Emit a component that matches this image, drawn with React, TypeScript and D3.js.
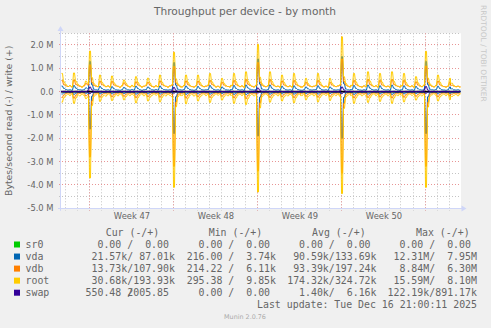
import React from "react";
import * as d3 from "d3";

// ---------- data (values in units of 10 kB/s, one sample per 4 hours) ----------
const START = Date.UTC(2025, 10, 14, 16); // Nov 14 16:00
const STEP_H = 4;
const N = 200;

const rootWrite = [
  78, 42, 30, 22, 26, 19, 80, 44, 31, 24,
  18, 27, 45, 35, 174, 60, 34, 25, 21, 71,
  40, 29, 20, 25, 18, 67, 38, 28, 22, 17,
  26, 50, 36, 24, 19, 27, 21, 64, 39, 26,
  18, 24, 28, 58, 37, 23, 19, 26, 20, 71,
  41, 28, 22, 18, 25, 30, 169, 55, 33, 24,
  19, 27, 71, 40, 27, 21, 18, 25, 71, 39,
  26, 20, 24, 28, 78, 42, 29, 19, 23, 17,
  57, 36, 26, 22, 19, 27, 78, 43, 28, 21,
  25, 18, 85, 45, 30, 22, 19, 28, 203, 62,
  34, 24, 20, 26, 85, 44, 29, 21, 24, 18,
  71, 40, 27, 20, 25, 19, 78, 42, 28, 22,
  18, 26, 57, 35, 25, 20, 23, 28, 78, 41,
  27, 19, 24, 18, 57, 36, 26, 21, 25, 30,
  235, 64, 35, 24, 19, 27, 78, 42, 28, 21,
  18, 25, 22, 85, 45, 29, 21, 26, 19, 78,
  41, 27, 20, 24, 18, 85, 44, 28, 22, 19,
  26, 78, 40, 27, 21, 25, 18, 64, 38, 26,
  20, 29, 173, 58, 33, 24, 19, 27, 71, 40,
  26, 21, 18, 24, 57, 36, 25, 20, 23, 19,
];
const rootRead = [
  -45, -26, -15, -11, -17, -9, -50, -27, -14, -18,
  -10, -16, -30, -22, -370, -60, -20, -13, -9, -42,
  -24, -15, -19, -10, -14, -38, -23, -12, -18, -9,
  -15, -35, -21, -13, -17, -11, -16, -48, -26, -14,
  -10, -18, -12, -40, -24, -16, -9, -15, -11, -44,
  -25, -14, -18, -10, -16, -22, -410, -65, -21, -12,
  -17, -9, -52, -28, -15, -11, -19, -13, -40, -23,
  -14, -10, -17, -12, -46, -25, -16, -9, -15, -11,
  -36, -22, -13, -18, -10, -16, -50, -27, -14, -11,
  -17, -9, -55, -30, -16, -12, -18, -14, -430, -70,
  -22, -13, -10, -17, -45, -26, -15, -11, -18, -9,
  -40, -23, -14, -18, -10, -16, -48, -26, -13, -11,
  -17, -9, -35, -21, -15, -10, -18, -12, -44, -25,
  -14, -11, -16, -9, -38, -22, -13, -17, -10, -20,
  -437, -72, -23, -14, -11, -17, -50, -27, -15, -10,
  -18, -12, -16, -46, -26, -14, -9, -17, -11, -42,
  -24, -15, -10, -18, -12, -50, -27, -14, -17, -9,
  -15, -44, -25, -13, -10, -16, -11, -36, -22, -14,
  -18, -12, -410, -66, -20, -13, -9, -16, -40, -23,
  -14, -11, -17, -10, -34, -21, -15, -12, -18, -10,
];
const vdbWrite = [
  48, 30, 24, 22, 25, 21, 50, 31, 25, 23,
  21, 24, 35, 28, 115, 40, 26, 23, 22, 45,
  30, 25, 22, 24, 21, 44, 29, 24, 23, 20,
  24, 38, 28, 23, 21, 25, 22, 42, 29, 24,
  21, 23, 25, 40, 28, 22, 21, 24, 22, 46,
  30, 25, 23, 21, 24, 26, 108, 38, 27, 23,
  21, 25, 46, 30, 24, 22, 21, 24, 45, 29,
  24, 22, 23, 25, 48, 31, 25, 21, 23, 20,
  40, 28, 24, 22, 21, 25, 48, 30, 25, 22,
  24, 21, 52, 32, 26, 23, 21, 25, 125, 42,
  27, 23, 22, 24, 52, 31, 25, 22, 23, 21,
  46, 29, 24, 22, 24, 21, 48, 30, 25, 23,
  21, 24, 40, 27, 23, 22, 23, 25, 48, 30,
  24, 21, 23, 21, 40, 28, 24, 22, 24, 26,
  140, 44, 28, 23, 21, 25, 48, 30, 25, 22,
  21, 24, 23, 52, 31, 25, 22, 24, 21, 48,
  29, 24, 22, 23, 21, 52, 31, 25, 23, 21,
  24, 48, 29, 24, 22, 24, 21, 42, 28, 24,
  22, 26, 110, 40, 27, 23, 21, 25, 45, 29,
  24, 22, 21, 23, 40, 27, 24, 22, 23, 21,
];
const vdbRead = [
  -25, -14, -8, -6, -9, -5, -28, -15, -7, -8,
  -5, -7, -18, -12, -280, -40, -10, -7, -5, -24,
  -13, -8, -9, -6, -7, -22, -12, -7, -9, -5,
  -8, -20, -11, -7, -9, -6, -8, -26, -14, -7,
  -6, -9, -7, -22, -13, -8, -5, -8, -6, -24,
  -13, -7, -9, -6, -8, -11, -320, -45, -11, -7,
  -9, -5, -28, -15, -8, -6, -9, -7, -22, -12,
  -7, -6, -9, -7, -25, -14, -8, -5, -8, -6,
  -20, -11, -7, -9, -6, -8, -27, -14, -7, -6,
  -9, -5, -30, -16, -8, -7, -9, -8, -340, -48,
  -12, -7, -6, -9, -25, -14, -8, -6, -9, -5,
  -22, -12, -7, -9, -6, -8, -26, -14, -7, -6,
  -9, -5, -20, -11, -8, -6, -9, -7, -24, -13,
  -7, -6, -8, -5, -21, -12, -7, -9, -6, -11,
  -350, -50, -12, -7, -6, -9, -27, -14, -8, -6,
  -9, -7, -8, -25, -14, -7, -5, -9, -6, -23,
  -13, -8, -6, -9, -7, -27, -14, -7, -9, -5,
  -8, -24, -13, -7, -6, -8, -6, -20, -12, -7,
  -9, -7, -320, -46, -11, -7, -5, -8, -22, -12,
  -7, -6, -9, -6, -19, -11, -8, -7, -9, -6,
];
const vdaWrite = [
  24, 14, 9, 7, 8, 6, 26, 15, 9, 8,
  7, 8, 16, 12, 130, 30, 10, 8, 7, 22,
  13, 9, 7, 8, 6, 21, 12, 8, 7, 6,
  8, 18, 11, 8, 7, 9, 7, 23, 13, 8,
  6, 8, 9, 20, 12, 8, 7, 9, 7, 24,
  13, 9, 8, 7, 8, 10, 125, 28, 10, 8,
  7, 9, 24, 14, 9, 7, 6, 8, 22, 13,
  8, 7, 8, 9, 26, 15, 9, 7, 8, 6,
  20, 12, 8, 7, 6, 9, 26, 14, 9, 7,
  8, 6, 28, 16, 10, 8, 7, 9, 140, 32,
  11, 8, 7, 9, 28, 15, 9, 7, 8, 6,
  23, 13, 8, 7, 8, 6, 25, 14, 9, 7,
  6, 8, 20, 12, 8, 7, 8, 9, 25, 14,
  8, 7, 8, 6, 20, 12, 8, 7, 8, 10,
  150, 34, 11, 8, 7, 9, 26, 14, 9, 7,
  6, 8, 7, 28, 15, 9, 7, 8, 6, 25,
  13, 8, 7, 8, 6, 28, 15, 9, 7, 6,
  8, 25, 13, 8, 7, 8, 6, 22, 12, 8,
  7, 10, 130, 30, 10, 8, 7, 9, 23, 13,
  8, 7, 6, 8, 20, 12, 8, 7, 8, 6,
];
const vdaRead = [
  -10, -6, -3, -2, -4, -2, -12, -6, -3, -3,
  -2, -3, -7, -5, -160, -20, -4, -3, -2, -10,
  -5, -3, -4, -2, -3, -9, -5, -3, -4, -2,
  -3, -8, -5, -3, -4, -2, -3, -11, -6, -3,
  -2, -4, -3, -9, -5, -3, -2, -3, -2, -10,
  -6, -3, -4, -2, -3, -5, -180, -22, -5, -3,
  -4, -2, -12, -6, -3, -2, -4, -3, -9, -5,
  -3, -2, -4, -3, -11, -6, -3, -2, -3, -2,
  -8, -5, -3, -4, -2, -3, -12, -6, -3, -2,
  -4, -2, -13, -7, -3, -3, -4, -3, -190, -24,
  -5, -3, -2, -4, -11, -6, -3, -2, -4, -2,
  -9, -5, -3, -4, -2, -3, -11, -6, -3, -2,
  -4, -2, -8, -5, -3, -2, -4, -3, -10, -6,
  -3, -2, -3, -2, -8, -5, -3, -4, -2, -4,
  -200, -25, -5, -3, -2, -4, -12, -6, -3, -2,
  -4, -3, -3, -11, -6, -3, -2, -4, -2, -10,
  -5, -3, -2, -4, -3, -12, -6, -3, -4, -2,
  -3, -10, -5, -3, -2, -3, -2, -8, -5, -3,
  -4, -3, -180, -22, -5, -3, -2, -3, -9, -5,
  -3, -2, -4, -2, -8, -5, -3, -3, -4, -2,
];
const swapWrite = [
  0, 1, 0, 0, 1, 0, 0, 1, 0, 0,
  1, 0, 0, 5, 20, 8, 1, 0, 0, 1,
  0, 0, 1, 0, 0, 1, 0, 0, 1, 0,
  0, 1, 0, 0, 1, 0, 0, 1, 0, 0,
  1, 0, 0, 1, 0, 0, 1, 0, 0, 1,
  0, 0, 1, 0, 0, 4, 18, 6, 1, 0,
  0, 1, 0, 0, 1, 0, 0, 1, 0, 0,
  1, 0, 0, 1, 0, 0, 1, 0, 0, 1,
  0, 0, 1, 0, 0, 1, 0, 0, 1, 0,
  0, 1, 0, 0, 1, 0, 0, 5, 15, 6,
  1, 0, 0, 1, 0, 0, 1, 0, 0, 1,
  0, 0, 1, 0, 0, 1, 0, 0, 1, 0,
  0, 1, 0, 0, 1, 0, 0, 1, 0, 0,
  1, 0, 0, 1, 0, 0, 1, 0, 0, 4,
  20, 8, 1, 0, 0, 1, 0, 0, 1, 0,
  0, 1, 0, 0, 1, 0, 0, 1, 0, 0,
  1, 0, 0, 1, 0, 0, 1, 0, 0, 1,
  0, 0, 1, 0, 0, 1, 0, 0, 1, 0,
  0, 6, 22, 7, 1, 0, 0, 1, 0, 0,
  1, 0, 0, 1, 0, 0, 1, 0, 0, 1,
];
const swapRead = [
  0, 0, 0, 0, 0, 0, 0, 0, 0, 0,
  0, 0, 0, -2, -8, -3, 0, 0, 0, 0,
  0, 0, 0, 0, 0, 0, 0, 0, 0, 0,
  0, 0, 0, 0, 0, 0, 0, 0, 0, 0,
  0, 0, 0, 0, 0, 0, 0, 0, 0, 0,
  0, 0, 0, 0, 0, 0, -6, -2, 0, 0,
  0, 0, 0, 0, 0, 0, 0, 0, 0, 0,
  0, 0, 0, 0, 0, 0, 0, 0, 0, 0,
  0, 0, 0, 0, 0, 0, 0, 0, 0, 0,
  0, 0, 0, 0, 0, 0, 0, 0, -5, -2,
  0, 0, 0, 0, 0, 0, 0, 0, 0, 0,
  0, 0, 0, 0, 0, 0, 0, 0, 0, 0,
  0, 0, 0, 0, 0, 0, 0, 0, 0, 0,
  0, 0, 0, 0, 0, 0, 0, 0, 0, 0,
  -8, -3, 0, 0, 0, 0, 0, 0, 0, 0,
  0, 0, 0, 0, 0, 0, 0, 0, 0, 0,
  0, 0, 0, 0, 0, 0, 0, 0, 0, 0,
  0, 0, 0, 0, 0, 0, 0, 0, 0, 0,
  0, 0, -7, -2, 0, 0, 0, 0, 0, 0,
  0, 0, 0, 0, 0, 0, 0, 0, 0, 0,
];
// sr0: every statistic in the legend is 0.00
const sr0Write = new Array(N).fill(0);
const sr0Read = new Array(N).fill(0);

const deviceNames = ["sr0", "vda", "vdb", "root", "swap"];
const deviceColors = ["#00CC00", "#0066B3", "#FF8000", "#FFCC00", "#330099"];

const yTickValues = [-5, -4, -3, -2, -1, 0, 1, 2];
const yTickLabels = ["-5.0 M", "-4.0 M", "-3.0 M", "-2.0 M", "-1.0 M", "0.0", "1.0 M", "2.0 M"];
const weekLabels = ["Week 47", "Week 48", "Week 49", "Week 50"];

const headers = ["Cur (-/+)", "Min (-/+)", "Avg (-/+)", "Max (-/+)"];
const curNeg = ["  0.00 ", " 21.57k", " 13.73k", " 30.68k", "550.48 "];
const curPos = ["  0.00 ", " 87.01k", "107.90k", "193.93k", "2005.85 "];
const minNeg = ["  0.00 ", "216.00 ", "214.22 ", "295.38 ", "  0.00 "];
const minPos = ["  0.00 ", "  3.74k", "  6.11k", "  9.85k", "  0.00 "];
const avgNeg = ["  0.00 ", " 90.59k", " 93.39k", "174.32k", "  1.40k"];
const avgPos = ["  0.00 ", "133.69k", "197.24k", "324.72k", "  6.16k"];
const maxNeg = ["  0.00 ", " 12.31M", "  8.84M", " 15.59M", "122.19k"];
const maxPos = ["  0.00 ", "  7.95M", "  6.30M", "  8.10M", "891.17k"];
const lastUpdate = "Last update: Tue Dec 16 21:00:11 2025";

// ---------- layout ----------
const W = 491;
const H = 328;
const PL = 61, PR = 461, PT = 33.3, PB = 208.3;
const FONT = "'DejaVu Sans', Verdana, sans-serif";
const MONO = "'DejaVu Sans Mono', monospace";
const TXT = "#666666";

export default function App() {
  const t0 = new Date(START);
  const t1 = d3.utcHour.offset(t0, N * STEP_H);
  const x = d3.scaleUtc().domain([t0, t1]).range([PL, PR]);
  const y = d3.scaleLinear().domain([-5e6, 2.5e6]).range([PB, PT]);

  // each 4-hour sample covers an interval; rrdtool draws one vertex per pixel column,
  // so we put a vertex at the centre of each pixel column the sample covers
  const pathFor = (arr: number[]) => {
    const pts: [number, number][] = [];
    arr.forEach((v, i) => {
      const xa = x(d3.utcHour.offset(t0, i * STEP_H));
      const xb = x(d3.utcHour.offset(t0, (i + 1) * STEP_H));
      const yy = y(v * 1e4);
      for (let px = Math.floor(xa) + 0.5; px < xb; px += 1) pts.push([px, yy]);
    });
    return d3.line().curve(d3.curveLinear)(pts) || "";
  };

  const crisp = (v: number) => Math.round(v) + 0.5;

  const minorY = y.ticks(15).filter((v) => Math.abs(v / 1e6 - Math.round(v / 1e6)) > 1e-9);
  const majorY = yTickValues.map((v) => v * 1e6).filter((v) => v > -5e6);
  const days = d3.utcDay.range(d3.utcDay.ceil(t0), t1);
  const mondays = d3.utcMonday.range(t0, t1);
  const labelDates = mondays.map((m) => d3.utcHour.offset(m, 84)).filter((d) => d < t1);

  const series: { w: number[]; r: number[]; c: string }[] = [
    { w: sr0Write, r: sr0Read, c: deviceColors[0] },
    { w: vdaWrite, r: vdaRead, c: deviceColors[1] },
    { w: vdbWrite, r: vdbRead, c: deviceColors[2] },
    { w: rootWrite, r: rootRead, c: deviceColors[3] },
  ];

  const cw = 5.96; // monospace advance
  const colStarts = [85.6, 186.7, 287.2, 387.6];
  const headerX = [105.7, 208.7, 312.1, 416.1];
  const rowBase = (k: number) => 248.1 + k * 12.05;
  const cols = [
    [curNeg, curPos],
    [minNeg, minPos],
    [avgNeg, avgPos],
    [maxNeg, maxPos],
  ];

  return (
    <svg
      width={W}
      height={H}
      style={{ position: "absolute", left: 0, top: 0, display: "block" }}
      xmlns="http://www.w3.org/2000/svg"
    >
      <rect x={0} y={0} width={W} height={H} fill="#F0F0F0" />
      <rect x={PL} y={PT} width={PR - PL} height={PB - PT} fill="#FFFFFF" />

      {/* minor grid */}
      <g stroke="#C4C4C4" strokeWidth={1} strokeDasharray="1,2">
        {minorY.map((v) => (
          <line key={"hy" + v} x1={PL - 2} x2={PR} y1={crisp(y(v) - 0.5)} y2={crisp(y(v) - 0.5)} />
        ))}
        {days.map((d) => (
          <line key={"vx" + +d} x1={crisp(x(d) - 0.5)} x2={crisp(x(d) - 0.5)} y1={PT} y2={PB + 2.5} />
        ))}
      </g>
      {/* major grid */}
      <g stroke="#E89595" strokeWidth={1} strokeDasharray="1,2">
        {majorY.map((v) => (
          <line key={"my" + v} x1={PL - 2} x2={PR} y1={crisp(y(v) - 0.5)} y2={crisp(y(v) - 0.5)} />
        ))}
        {mondays.map((d) => (
          <line key={"mx" + +d} x1={crisp(x(d) - 0.5)} x2={crisp(x(d) - 0.5)} y1={PT} y2={PB + 2.5} />
        ))}
      </g>

      {/* series */}
      <g fill="none" strokeWidth={1}>
        {series.map((s, k) => (
          <g key={"s" + k} stroke={s.c}>
            <path d={pathFor(s.r)} />
            <path d={pathFor(s.w)} />
          </g>
        ))}
        <line x1={PL} x2={PR - 1} y1={y(0)} y2={y(0)} stroke="#000000" strokeWidth={1.6} />
        <g stroke={deviceColors[4]}>
          <path d={pathFor(swapRead)} />
          <path d={pathFor(swapWrite)} />
        </g>
      </g>

      {/* axes */}
      <g stroke="#CFD6F8" strokeWidth={1} fill="none">
        <line x1={PL - 0.5} x2={PL - 0.5} y1={PB + 2.5} y2={29} />
        <line x1={PL - 3} x2={PR + 1} y1={PB + 0.2} y2={PB + 0.2} />
      </g>
      <g fill="#CFD6F8">
        <polygon points={`${PL - 3.5},31 ${PL + 2.5},31 ${PL - 0.5},26`} />
        <polygon points={`${PR + 0.5},${PB - 2.8} ${PR + 0.5},${PB + 3.2} ${PR + 5.5},${PB + 0.2}`} />
      </g>

      {/* y tick labels */}
      <g fontFamily={FONT} fontSize={8.4} fill={TXT} textAnchor="end">
        {yTickValues.map((v, i) => (
          <text key={"yl" + v} x={53.6} y={y(v * 1e6) + 3}>
            {yTickLabels[i]}
          </text>
        ))}
      </g>
      {/* x labels */}
      <g fontFamily={FONT} fontSize={8.4} fill={TXT} textAnchor="middle">
        {labelDates.map((d, i) => (
          <text key={"xl" + i} x={x(d) + 1} y={219.2}>
            {weekLabels[i]}
          </text>
        ))}
      </g>

      {/* titles */}
      <text x={245} y={15} fontFamily={FONT} fontSize={10.6} fill={TXT} textAnchor="middle">
        Throughput per device - by month
      </text>
      <text
        transform={`translate(12.2, ${(PT + PB) / 2}) rotate(-90)`}
        fontFamily={FONT}
        fontSize={9.3}
        fill={TXT}
        textAnchor="middle"
      >
        Bytes/second read (-) / write (+)
      </text>
      <text
        transform="translate(480.6, 5) rotate(90)"
        fontFamily={FONT}
        fontSize={7.5}
        fill="#C8C8C8"
        textAnchor="start"
      >
        RRDTOOL / TOBI OETIKER
      </text>

      {/* legend */}
      <g fontFamily={MONO} fontSize={9.9} fill={TXT} style={{ whiteSpace: "pre" }}>
        {headers.map((h, i) => (
          <text key={"h" + i} x={headerX[i]} y={236.1} xmlSpace="preserve">
            {h}
          </text>
        ))}
        {deviceNames.map((name, r) => (
          <g key={"row" + name}>
            <rect x={14} y={rowBase(r) - 6.6} width={6} height={6} fill={deviceColors[r]} />
            <text x={25.5} y={rowBase(r)}>
              {name}
            </text>
            {cols.map(([neg, pos], c) => (
              <g key={"c" + c}>
                <text x={colStarts[c]} y={rowBase(r)} xmlSpace="preserve">
                  {neg[r] + "/"}
                </text>
                <text x={colStarts[c] + (15 - pos[r].length) * cw} y={rowBase(r)} xmlSpace="preserve">
                  {pos[r]}
                </text>
              </g>
            ))}
          </g>
        ))}
        <text x={477} y={rowBase(5)} textAnchor="end">
          {lastUpdate}
        </text>
      </g>
      <text x={245} y={319} fontFamily={FONT} fontSize={6.4} fill="#AAAAAA" textAnchor="middle">
        Munin 2.0.76
      </text>
    </svg>
  );
}
